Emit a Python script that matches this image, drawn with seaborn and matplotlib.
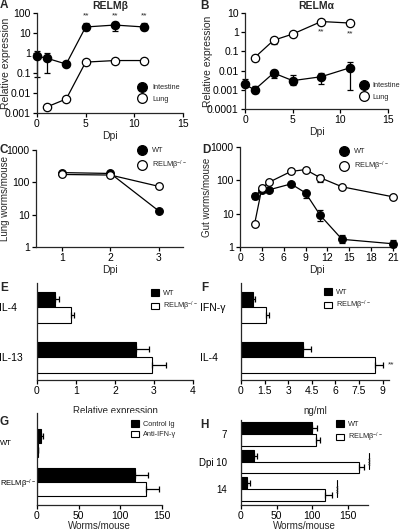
import numpy as np
import pandas as pd
import matplotlib
matplotlib.use("Agg")
import matplotlib.pyplot as plt
import seaborn as sns
from matplotlib.lines import Line2D
from matplotlib.patches import Patch
from matplotlib.ticker import FixedLocator, NullLocator

# --- DATA ---
# A: RELMbeta expression (intestine / lung)
A_INT_DPI = [0, 1, 3, 5, 8, 11]
A_INT_VAL = [0.7, 0.55, 0.28, 20, 25, 20]
A_INT_LO = [0.06, 0.1, 0.28, 14, 13, 14]
A_INT_HI = [1.3, 1.0, 0.28, 30, 34, 30]
A_LUNG_DPI = [1, 3, 5, 8, 11]
A_LUNG_VAL = [0.002, 0.005, 0.35, 0.42, 0.42]
A_STAR_DPI = [5, 8, 11]

# B: RELMalpha expression
B_INT_DPI = [0, 1, 3, 5, 8, 11]
B_INT_VAL = [0.0019, 0.001, 0.0075, 0.003, 0.0048, 0.014]
B_INT_LO = [0.0019, 0.0007, 0.004, 0.0018, 0.002, 0.001]
B_INT_HI = [0.0038, 0.0015, 0.011, 0.0056, 0.0075, 0.027]
B_LUNG_DPI = [1, 3, 5, 8, 11]
B_LUNG_VAL = [0.047, 0.38, 0.8, 3.6, 3.0]
B_LUNG_LO = [0.047, 0.24, 0.8, 3.6, 3.0]
B_STAR_DPI = [8, 11]
B_STAR_VAL = [3.6, 3.0]

# C: lung worms
C_DPI = [1, 2, 3]
C_WT = [200, 188, 13]
C_KO = [175, 168, 75]

# D: gut worms
D_DPI = [2, 3, 4, 7, 9, 11, 14, 21]
D_WT = [35, 50, 52, 78, 42, 9, 1.7, 1.25]
D_WT_LO = [27, 50, 52, 78, 30, 6, 1.35, 1.0]
D_WT_HI = [43, 50, 52, 78, 42, 12.5, 2.3, 1.65]
D_KO = [4.9, 58, 88, 185, 210, 120, 64, 32]
D_KO_LO = [4.9, 58, 88, 185, 210, 90, 64, 32]
D_KO_HI = [4.9, 58, 88, 185, 210, 140, 64, 32]

# E: cytokine expression
E_CATS = ["IL-4", "IL-13"]
E_WT = [0.47, 2.55]
E_WT_ERR = [0.09, 0.32]
E_KO = [0.87, 2.95]
E_KO_ERR = [0.09, 0.35]

# F: cytokine protein
F_CATS = ["IFN-γ", "IL-4"]
F_WT = [0.78, 3.95]
F_WT_ERR = [0.1, 0.5]
F_KO = [1.6, 8.5]
F_KO_ERR = [0.18, 0.55]

# G: anti-IFN-gamma
G_CATS = ["WT", "RELMβ$^{-/-}$"]
G_CTRL = [5, 117]
G_CTRL_ERR = [2, 16]
G_ANTI = [1, 131]
G_ANTI_ERR = [0.5, 15]

# H: worms by dpi
H_CATS = ["7", "Dpi 10", "14"]
H_WT = [100, 18, 9]
H_WT_ERR = [7, 4, 3]
H_KO = [105, 165, 118]
H_KO_ERR = [6, 8, 10]
H_SIG = [False, True, True]

KO = "RELMβ$^{-/-}$"

sns.set_theme(style="ticks")
plt.rcParams['font.family'] = ['Liberation Sans', 'DejaVu Sans']
plt.rcParams['mathtext.fontset'] = 'custom'
plt.rcParams['mathtext.rm'] = 'Liberation Sans'
plt.rcParams['mathtext.it'] = 'Liberation Sans'
plt.rcParams['axes.linewidth'] = 0.9
plt.rcParams['xtick.major.width'] = 0.9
plt.rcParams['ytick.major.width'] = 0.9
plt.rcParams['xtick.major.size'] = 3
plt.rcParams['ytick.major.size'] = 3
plt.rcParams['xtick.labelsize'] = 7.5
plt.rcParams['ytick.labelsize'] = 7.5
plt.rcParams['axes.labelsize'] = 7.5

W, H = 400, 531
fig = plt.figure(figsize=(W / 100, H / 100), dpi=100)


def add_ax(l, t, r, b):
    return fig.add_axes([l / W, 1 - b / H, (r - l) / W, (b - t) / H])


def fpos(x, y):
    return (x / W, 1 - y / H)


def style(ax):
    sns.despine(ax=ax)
    ax.tick_params(axis="both", direction="out", pad=1.5, colors="black")


def line_legend(ax, x, y, labels, fills, ms=7, fs=5.3, tpad=0.9):
    handles = [Line2D([], [], marker="o", linestyle="none", markersize=ms,
                      markerfacecolor=f, markeredgecolor="black", markeredgewidth=0.9)
               for f in fills]
    fs_px = fs * 100 / 72
    ax.legend(handles, labels, loc="upper left", bbox_to_anchor=fpos(x - 0.5 * fs_px, y - 0.65 * fs_px),
              bbox_transform=fig.transFigure, frameon=False, fontsize=fs, borderpad=0,
              borderaxespad=0, handlelength=1.0, handletextpad=tpad, labelspacing=0.6)


def bar_legend(ax, x, y, labels, fs=5.3):
    handles = [Patch(facecolor=c, edgecolor="black", linewidth=0.8) for c in ["black", "white"]]
    fs_px = fs * 100 / 72
    ax.legend(handles, labels, loc="upper left", bbox_to_anchor=fpos(x - 0.6 * fs_px, y - 0.65 * fs_px),
              bbox_transform=fig.transFigure, frameon=False, fontsize=fs, borderpad=0,
              borderaxespad=0, handlelength=1.2, handleheight=1.0, handletextpad=0.5,
              labelspacing=0.35)


def err(ax, x, y, lo, hi):
    y = np.array(y)
    ax.errorbar(x, y, yerr=[y - np.array(lo), np.array(hi) - y], fmt="none", ecolor="black",
                elinewidth=0.9, capsize=2.5, capthick=0.9, zorder=1, clip_on=False)


def lines(ax, x, y, fill, ms):
    sns.lineplot(x=x, y=y, ax=ax, color="black", linewidth=0.9, marker="o", markersize=ms,
                 markerfacecolor=fill, markeredgecolor="black", markeredgewidth=0.9,
                 clip_on=False, zorder=3, legend=False)


def log_axis(ax, ticks, labels):
    ax.set_yscale("log")
    ax.set_ylim(ticks[0], ticks[-1])
    ax.yaxis.set_major_locator(FixedLocator(ticks))
    ax.yaxis.set_minor_locator(NullLocator())
    ax.set_yticklabels(labels)


def bars(ax, cats, v1, e1, v2, e2, names, width):
    df = pd.DataFrame({"cat": cats * 2, "val": v1 + v2,
                       "grp": [names[0]] * len(cats) + [names[1]] * len(cats)})
    sns.barplot(data=df, y="cat", x="val", hue="grp", orient="h", ax=ax,
                palette={names[0]: "black", names[1]: "white"}, edgecolor="black",
                linewidth=0.8, width=width, errorbar=None, legend=False, saturation=1)
    centers = []
    for cont, vals, errs in zip(ax.containers, [v1, v2], [e1, e2]):
        ys = [b.get_y() + b.get_height() / 2 for b in cont]
        centers.append(ys)
        ax.errorbar(vals, ys, xerr=[np.zeros(len(vals)), errs], fmt="none", ecolor="black",
                    elinewidth=0.9, capsize=2.5, capthick=0.9, clip_on=False)
    ax.tick_params(axis="y", length=0)
    ax.set_ylabel("")
    return centers


def panel_letter(x, y, s):
    fig.text(x / W, 1 - y / H, s, fontsize=8.5, fontweight="bold", ha="left", va="top")


# ---------- A ----------
ax = add_ax(37, 13, 183, 113)
err(ax, A_INT_DPI, A_INT_VAL, A_INT_LO, A_INT_HI)
lines(ax, A_INT_DPI, A_INT_VAL, "black", 6)
lines(ax, A_LUNG_DPI, A_LUNG_VAL, "white", 6)
log_axis(ax, [0.001, 0.01, 0.1, 1, 10, 100], ["0.001", "0.01", "0.1", "1", "10", "100"])
ax.set_xlim(0, 15)
ax.set_xticks([0, 5, 10, 15])
for d in A_STAR_DPI:
    ax.text(d, 70, "**", ha="center", va="center", fontsize=6)
ax.set_xlabel("Dpi", labelpad=1)
ax.set_ylabel("Relative expression")
ax.yaxis.set_label_coords(-0.18, 0.5)
ax.set_title("RELMβ", fontsize=7.5, fontweight="bold", pad=3)
style(ax)
line_legend(ax, 142, 89, ["Intestine", "Lung"], ["black", "white"])
panel_letter(0, -1, "A")

# ---------- B ----------
ax = add_ax(245, 13, 388, 109)
err(ax, B_INT_DPI, B_INT_VAL, B_INT_LO, B_INT_HI)
err(ax, B_LUNG_DPI, B_LUNG_VAL, B_LUNG_LO, B_LUNG_VAL)
lines(ax, B_INT_DPI, B_INT_VAL, "black", 6)
lines(ax, B_LUNG_DPI, B_LUNG_VAL, "white", 6)
log_axis(ax, [0.0001, 0.001, 0.01, 0.1, 1, 10], ["0.0001", "0.001", "0.01", "0.1", "1", "10"])
ax.set_xlim(0, 15)
ax.set_xticks([0, 5, 10, 15])
for d, v in zip(B_STAR_DPI, B_STAR_VAL):
    ax.text(d, v / 3.6, "**", ha="center", va="center", fontsize=6)
ax.set_xlabel("Dpi", labelpad=1)
ax.set_ylabel("Relative expression")
ax.yaxis.set_label_coords(-0.225, 0.5)
ax.set_title("RELMα", fontsize=7.5, fontweight="bold", pad=3)
style(ax)
line_legend(ax, 364, 87, ["Intestine", "Lung"], ["black", "white"], tpad=0.6)
panel_letter(200, 0, "B")

# ---------- C ----------
ax = add_ax(36, 150, 183, 247)
lines(ax, C_DPI, C_WT, "black", 5.5)
lines(ax, C_DPI, C_KO, "white", 5.5)
log_axis(ax, [1, 10, 100, 1000], ["1", "10", "100", "1000"])
ax.set_xlim(0.46, 3.5)
ax.set_xticks([1, 2, 3])
ax.set_xlabel("Dpi", labelpad=1)
ax.set_ylabel("Lung worms/mouse", fontsize=7)
ax.yaxis.set_label_coords(-0.175, 0.5)
style(ax)
line_legend(ax, 142, 152, ["WT", KO], ["black", "white"])
panel_letter(0, 144, "C")

# ---------- D ----------
ax = add_ax(240, 147, 393, 247)
err(ax, D_DPI, D_WT, D_WT_LO, D_WT_HI)
err(ax, D_DPI, D_KO, D_KO_LO, D_KO_HI)
lines(ax, D_DPI, D_WT, "black", 5.5)
lines(ax, D_DPI, D_KO, "white", 5.5)
log_axis(ax, [1, 10, 100, 1000], ["1", "10", "100", "1000"])
ax.set_xlim(0, 21)
ax.set_xticks(list(range(0, 22, 3)))
ax.set_xlabel("Dpi", labelpad=1)
ax.set_ylabel("Gut worms/mouse", fontsize=7)
ax.yaxis.set_label_coords(-0.18, 0.5)
style(ax)
line_legend(ax, 344, 153, ["WT", KO], ["black", "white"])
panel_letter(202, 144, "D")

# ---------- E ----------
ax = add_ax(37, 283, 193, 380)
bars(ax, E_CATS, E_WT, E_WT_ERR, E_KO, E_KO_ERR, ["WT", KO], 0.62)
ax.set_ylim(1.46, -0.48)
ax.set_xlim(0, 4)
ax.set_xticks([0, 1, 2, 3, 4])
ax.set_xlabel("Relative expression", labelpad=7, fontsize=7)
style(ax)
ax.tick_params(axis="y", length=0, pad=27, labelsize=7.5)
for lab in ax.get_yticklabels():
    lab.set_ha("left")
bar_legend(ax, 155, 294, ["WT", KO])
panel_letter(0, 282, "E")

# ---------- F ----------
ax = add_ax(241, 283, 389, 380)
cen = bars(ax, F_CATS, F_WT, F_WT_ERR, F_KO, F_KO_ERR, ["WT", KO], 0.62)
ax.set_ylim(1.46, -0.48)
ax.set_xlim(0, 9.4)
ax.set_xticks([0, 1.5, 3, 4.5, 6, 7.5, 9])
ax.set_xticklabels(["0", "1.5", "3", "4.5", "6", "7.5", "9"])
ax.text(F_KO[1] + F_KO_ERR[1] + 0.3, cen[1][1], "**", ha="left", va="center", fontsize=6)
ax.set_xlabel("ng/ml", labelpad=7, fontsize=7)
style(ax)
ax.tick_params(axis="y", length=0, pad=29.5, labelsize=7.5)
for lab in ax.get_yticklabels():
    lab.set_ha("left")
bar_legend(ax, 328, 293, ["WT", KO])
panel_letter(201, 282, "F")

# ---------- G ----------
ax = add_ax(37, 413, 162, 505)
bars(ax, G_CATS, G_CTRL, G_CTRL_ERR, G_ANTI, G_ANTI_ERR, ["Control Ig", "Anti-IFN-γ"], 0.7)
ax.set_ylim(1.575, -0.75)
ax.set_xlim(0, 150)
ax.set_xticks([0, 50, 100, 150])
ax.set_xlabel("Worms/mouse", labelpad=0, fontsize=7)
style(ax)
ax.tick_params(axis="x", pad=1)
ax.tick_params(axis="y", length=0, pad=26.5, labelsize=5.5)
for lab in ax.get_yticklabels():
    lab.set_ha("left")
bar_legend(ax, 135, 425, ["Control Ig", "Anti-IFN-γ"])
panel_letter(0, 416, "G")

# ---------- H ----------
ax = add_ax(241, 420, 368, 505)
cen = bars(ax, H_CATS, H_WT, H_WT_ERR, H_KO, H_KO_ERR, ["WT", KO], 0.86)
ax.set_ylim(2.57, -0.5)
ax.set_xlim(0, 178)
ax.set_xticks([0, 50, 100, 150])
for i, sig in enumerate(H_SIG):
    if not sig:
        continue
    lx = H_KO[i] + H_KO_ERR[i] + 6
    y0 = cen[0][i] - 0.1
    y1 = cen[1][i] + 0.05
    ax.plot([lx, lx], [y0, y1], color="black", linewidth=0.8, clip_on=False)
    ax.text(lx + 4, (y0 + y1) / 2, "***", rotation=90, ha="center", va="center",
            fontsize=5.5, clip_on=False)
ax.set_xlabel("Worms/mouse", labelpad=0, fontsize=7)
style(ax)
ax.tick_params(axis="x", pad=1)
ax.tick_params(axis="y", length=0, pad=10, labelsize=7)
bar_legend(ax, 340, 425, ["WT", KO])
panel_letter(200, 419, "H")

fig.savefig("out.png", dpi=100)
